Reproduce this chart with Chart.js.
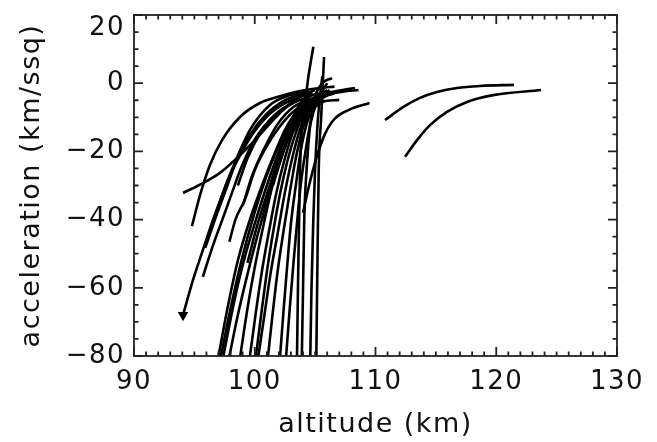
<!DOCTYPE html>
<html><head><meta charset="utf-8">
<script src="https://cdn.jsdelivr.net/npm/chart.js@4/dist/chart.umd.min.js"></script>
<style>html,body{margin:0;padding:0;background:#fff}</style>
</head><body>
<canvas id="c" width="657" height="442"></canvas>
<script>
const xTickValues = [90, 100, 110, 120, 130];
const yTickValues = [20, 0, -20, -40, -60, -80];

// each entry is one trajectory: altitude (km) and acceleration (km/ssq)
const altitudes = [
  [94.8, 95.47, 96.29, 97.29, 98.78, 100.43, 102.09, 103.75, 105.4, 106.6],        // A
  [94.06, 95.71, 97.12, 98.36, 100.02, 101.68, 103.33, 104.99],                      // B
  [94.06, 94.89, 95.71, 96.54, 97.37, 98.2, 99.61, 101.26, 102.92, 104.5],          // C (arrow)
  [95.7, 96.5, 97.4, 98.2, 98.9, 100.0, 101.6, 103.6],                               // D
  [95.9, 96.9, 97.7, 98.5, 99.6, 100.9, 102.5, 104.0],                               // E
  [97.9, 98.4, 99.2, 100.0, 101.3, 102.9, 104.5],                                    // F
  [99.4, 100.1, 100.85, 101.7, 102.75, 104.2, 105.8],                                // G
  [104.0, 104.5, 105.1, 105.8, 106.6, 107.8, 109.5],                                 // H
  [97.0, 97.8, 98.6, 99.6, 100.6, 101.6, 102.6, 103.8, 105.0],
  [97.2, 98.0, 98.9, 99.9, 100.9, 101.9, 103.0, 104.0, 106.2, 108.3],
  [97.4, 98.3, 99.1, 100.1, 101.0, 102.0, 103.0, 104.0, 105.2],
  [97.9, 98.6, 99.4, 100.2, 101.0, 101.9, 102.8, 103.8, 104.8],
  [98.8, 99.4, 100.0, 100.7, 101.4, 102.2, 103.1, 104.2, 105.5],
  [99.6, 100.1, 100.6, 101.2, 101.8, 102.5, 103.3, 104.3, 105.4],
  [100.1, 100.6, 101.1, 101.7, 102.3, 103.0, 103.8, 104.8, 106.0],
  [100.3, 100.8, 101.3, 101.9, 102.5, 103.1, 103.8, 104.6, 105.6, 107.0],
  [101.1, 101.5, 101.9, 102.4, 102.9, 103.4, 104.0, 104.8, 106.0, 107.3, 108.6],
  [102.1, 102.4, 102.7, 103.0, 103.4, 103.8, 104.3, 105.0, 106.2],
  [102.6, 102.9, 103.2, 103.5, 103.8, 104.2, 104.6, 105.2, 106.0],
  [103.5, 103.6, 103.75, 104.3, 104.85],
  [103.9, 104.0, 104.1, 104.3, 104.6, 105.0, 105.6, 106.4],
  [104.6, 104.7, 104.85, 105.0, 105.2, 105.4, 105.6],
  [105.1, 105.2, 105.3, 105.5, 105.74],
  [98.6, 99.4, 100.4, 101.6, 103.0, 104.6],
  [99.0, 99.8, 100.8, 101.9, 103.2, 104.8, 106.6],
  [100.6, 101.3, 102.0, 102.9, 104.0, 105.4, 106.2],
  [101.5, 102.2, 103.0, 104.0, 105.2, 106.0],
  [96.8, 97.7, 98.8, 100.0, 101.4, 103.0, 104.8],
  [110.79, 112.28, 113.69, 115.09, 116.75, 118.65, 121.47],                          // R1
  [112.44, 113.44, 114.51, 115.92, 117.58, 119.73, 123.71]                           // R2
];
const accelerations = [
  [-41.9, -32.8, -24, -16.7, -9.9, -5.8, -3.8, -2.3, -1.4, -1.0],
  [-32.2, -29.3, -26.3, -22.5, -16.7, -10.2, -4.9, -2.0],
  [-68, -57.7, -48.9, -40.1, -32.2, -24.6, -13.7, -6.4, -3.5, -2.5],
  [-56.8, -48, -39.2, -31.3, -24.6, -16.5, -9.5, -5],
  [-48.3, -38, -30.4, -22.5, -15.2, -9.3, -5, -3],
  [-46.5, -40, -34, -25.5, -16.7, -9.3, -5],
  [-52.7, -43, -34.3, -25.5, -16.7, -9.3, -5],
  [-38, -30, -22, -15, -10.5, -7.8, -5.8],
  [-80, -65, -52, -40, -30, -21, -13, -7, -4],
  [-80, -66, -52, -39, -28, -19, -11, -5, -2.7, -1.4],
  [-80, -64, -52, -40, -30, -20, -12, -6.5, -4],
  [-80, -68, -56, -45, -35, -25, -16, -9, -5],
  [-80, -66, -54, -42, -31, -21, -13, -7, -4],
  [-80, -67, -55, -43, -32, -22, -13, -7, -3.5],
  [-80, -66, -53, -40, -29, -19, -11, -6, -3],
  [-80, -68, -56, -44, -32, -22, -13, -7.5, -5.5, -4.9],
  [-80, -67, -55, -43, -32, -22, -13, -7, -3.6, -2.5, -2.0],
  [-80, -66, -53, -41, -30, -20, -12, -6, -2],
  [-80, -66, -53, -41, -30, -20, -12, -5, 0],
  [-80, -55, -25.5, -2, 10.7],
  [-80, -60, -40, -25, -12, -4, 0, 1.5],
  [-80, -60, -40, -25, -12, -4, 2.1],
  [-80, -50, -25, -10, 7.7],
  [-30, -22, -15, -9.5, -6, -4],
  [-36, -27, -19, -12, -7, -4.5, -3],
  [-40, -30, -21, -13, -7, -3.5, -2.5],
  [-30, -22, -14, -8, -4, -2],
  [-38, -29, -21, -14, -8.5, -5, -3],
  [-10.8, -7.0, -4.3, -2.6, -1.4, -0.8, -0.5],
  [-21.6, -16.7, -12.3, -8.4, -5.5, -3.5, -2.0]
];
const arrowCurve = 2;

const FONT = 'DejaVu Sans';
const fmt = v => v < 0 ? '\u2212' + Math.abs(v) : String(v);
// top label sits just below its tick, as in the original
const fmtY = v => v === 20 ? ['', fmt(v)] : fmt(v);

const datasets = altitudes.map((alts, i) => ({
  data: alts.map((a, j) => ({x: a, y: accelerations[i][j]})),
  borderColor: '#000',
  backgroundColor: '#000',
  borderWidth: 2.6,
  fill: false,
  cubicInterpolationMode: 'monotone',
  pointStyle: 'triangle',
  rotation: 180,
  pointRadius: ctx => (ctx.datasetIndex === arrowCurve && ctx.dataIndex === 0) ? 3.5 : 0,
  pointHoverRadius: 0
}));

const spacingPlugin = {
  id: 'spacing',
  beforeDraw(chart) { chart.ctx.letterSpacing = '1.5px'; },
  afterDraw(chart) { chart.ctx.letterSpacing = '0px'; }
};

const framePlugin = {
  id: 'frame',
  afterDatasetsDraw(chart) {
    const {ctx, chartArea: a, scales: {x, y}} = chart;
    ctx.save();
    ctx.strokeStyle = '#222';
    ctx.lineWidth = 1.8;
    ctx.strokeRect(a.left, a.top, a.right - a.left, a.bottom - a.top);
    ctx.beginPath();
    for (let v = 90; v <= 130; v += 1) {
      const px = x.getPixelForValue(v);
      const L = v % 10 === 0 ? 9 : 4.5;
      ctx.moveTo(px, a.bottom); ctx.lineTo(px, a.bottom - L);
      ctx.moveTo(px, a.top); ctx.lineTo(px, a.top + L);
    }
    for (let v = -80; v <= 20; v += 5) {
      const py = y.getPixelForValue(v);
      const L = v % 20 === 0 ? 9 : 4.5;
      ctx.moveTo(a.left, py); ctx.lineTo(a.left + L, py);
      ctx.moveTo(a.right, py); ctx.lineTo(a.right - L, py);
    }
    ctx.stroke();
    ctx.restore();
  }
};

new Chart(document.getElementById('c'), {
  type: 'line',
  data: {datasets},
  plugins: [spacingPlugin, framePlugin],
  options: {
    responsive: false,
    animation: false,
    devicePixelRatio: 1,
    layout: {padding: {top: 15, right: 40, left: 0, bottom: 0}},
    plugins: {legend: {display: false}, tooltip: {enabled: false}},
    scales: {
      x: {
        type: 'linear', min: 90, max: 130,
        afterBuildTicks: s => { s.ticks = xTickValues.map(v => ({value: v})); },
        afterFit: s => { s.height = 86; s.paddingLeft = 0; s.paddingRight = 0; },
        grid: {display: false, drawTicks: false},
        border: {display: false},
        ticks: {font: {family: FONT, size: 26}, color: '#111', padding: 11, maxRotation: 0, autoSkip: false, callback: fmt},
        title: {display: true, text: 'altitude (km)', font: {family: FONT, size: 27}, color: '#111', padding: {top: 0, bottom: 1}}
      },
      y: {
        type: 'linear', min: -80, max: 20,
        afterBuildTicks: s => { s.ticks = yTickValues.map(v => ({value: v})); },
        afterFit: s => { s.width = 134; s.paddingTop = 0; s.paddingBottom = 0; },
        grid: {display: false, drawTicks: false},
        border: {display: false},
        ticks: {font: {family: FONT, size: 26, lineHeight: 1.0}, color: '#111', padding: 9, autoSkip: false, callback: fmtY},
        title: {display: true, text: 'acceleration (km/ssq)', font: {family: FONT, size: 27}, color: '#111', padding: {top: 16, bottom: 0}}
      }
    }
  }
});
</script>
</body></html>
